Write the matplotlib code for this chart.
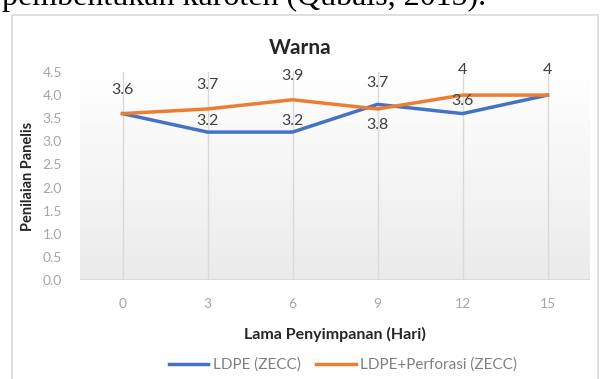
import matplotlib.pyplot as plt
import numpy as np
from matplotlib.patches import Rectangle

hari = ['0', '3', '6', '9', '12', '15']
ldpe = [3.6, 3.2, 3.2, 3.8, 3.6, 4]
ldpe_perforasi = [3.6, 3.7, 3.9, 3.7, 4, 4]

# label offsets in pixels (None = no label drawn)
ldpe_label_off = [None, 11, 11, -21, 13, None]
perf_label_off = [24, 24, 24, 26, 25, 25]

W, H = 601, 379
plt.rcParams['font.family'] = ['Lato', 'DejaVu Sans']
fig = plt.figure(figsize=(W / 100, H / 100), dpi=100)

# body text above the chart, partly cut off at the top
fig.text(2 / W, 1 - 5 / H, 'pembentukan karoten (Qubais, 2015).', family='Liberation Serif',
         fontsize=23, va='baseline', ha='left', color='black')

# chart frame
fig.patches.append(Rectangle((12 / W, -0.05), 586 / W, 1 - 15 / H + 0.05, transform=fig.transFigure,
                             fill=False, edgecolor='#d9d9d9', linewidth=1.2))

ax = fig.add_axes([80 / W, 99 / H, 510 / W, 208 / H])
x = np.arange(len(hari))

# soft gradient in the plot area
grad = np.linspace(1, 0, 256).reshape(-1, 1)
ax.imshow(grad, cmap=plt.cm.colors.LinearSegmentedColormap.from_list('g', ['#ebebeb', '#ffffff']),
          extent=[-0.5, 5.5, 0, 4.5], aspect='auto', zorder=0)

for xi in x:
    ax.axvline(xi, color='#d9d9d9', linewidth=1, zorder=1)
ax.axhline(0, color='#d9d9d9', linewidth=1.2, zorder=1)

ax.plot(x, ldpe, color='#4472C4', linewidth=2.5, label='LDPE (ZECC)', zorder=3)
ax.plot(x, ldpe_perforasi, color='#ED7D31', linewidth=2.5, label='LDPE+Perforasi (ZECC)', zorder=3)

for xi, v, off in zip(x, ldpe_perforasi, perf_label_off):
    ax.annotate(f'{v:g}', (xi, v), xytext=(0, off), textcoords='offset pixels',
                ha='center', va='center', fontsize=11.5, color='#404040')
for xi, v, off in zip(x, ldpe, ldpe_label_off):
    if off is not None:
        ax.annotate(f'{v:g}', (xi, v), xytext=(0, off), textcoords='offset pixels',
                    ha='center', va='center', fontsize=11.5, color='#404040')

ax.set_xlim(-0.5, 5.5)
ax.set_ylim(0, 4.5)
ax.set_xticks(x)
ax.set_xticklabels(hari)
ax.set_yticks(np.arange(0, 4.51, 0.5))
ax.set_yticklabels([f'{t:.1f}' for t in np.arange(0, 4.51, 0.5)])
ax.tick_params(length=0, labelsize=10, colors='#a6a6a6')
ax.tick_params(axis='y', pad=13)
ax.tick_params(axis='x', pad=13)
for s in ax.spines.values():
    s.set_visible(False)

ax.set_ylabel('Penilaian Panelis', fontsize=10.5, fontweight='bold', color='#262626', labelpad=5)
ax.set_xlabel('Lama Penyimpanan (Hari)', fontsize=11.5, fontweight='bold', color='#262626', labelpad=12)

fig.text(300 / W, 1 - 48 / H, 'Warna', fontsize=15, fontweight='bold', ha='center', va='center',
         color='#262626')

fig.legend(loc='center', bbox_to_anchor=(343 / W, 1 - 365 / H), ncol=2, frameon=False,
           fontsize=11, labelcolor='#808080', handlelength=2.6, columnspacing=1.0, handletextpad=0.3)

fig.savefig('out.png', dpi=100)
